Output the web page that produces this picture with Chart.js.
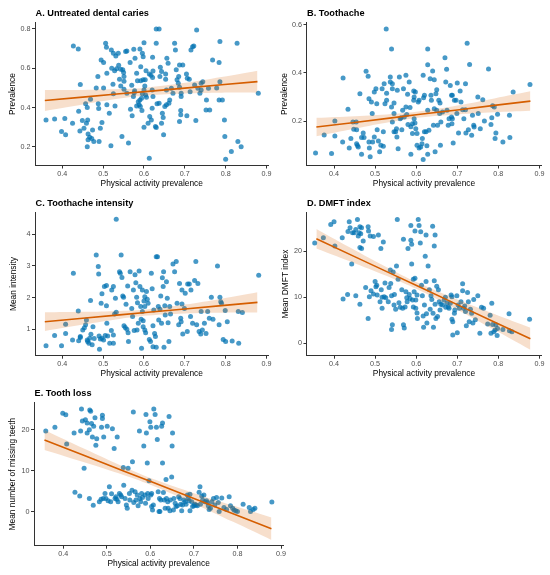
<!DOCTYPE html>
<html>
<head>
<meta charset="utf-8">
<script src="https://cdn.jsdelivr.net/npm/chart.js@4.4.1/dist/chart.umd.min.js"></script>
<style>
html,body{margin:0;padding:0;background:#fff;}
#wrap{position:relative;width:550px;height:575px;overflow:hidden;background:#fff;}
canvas{position:absolute;}
</style>
</head>
<body>
<div id="wrap"></div>
<script>
// ---------- DATA ----------
const xTicks = [0.4, 0.5, 0.6, 0.7, 0.8, 0.9];
const aTicks = [0.2, 0.4, 0.6, 0.8];
const bTicks = [0.2, 0.4, 0.6];
const cTicks = [1, 2, 3, 4];
const dTicks = [0, 10, 20];
const eTicks = [0, 10, 20];

// Fitted line and 95% band at these x positions
const fitX = [0.357, 0.45, 0.54, 0.61, 0.70, 0.79, 0.878];
const aFit = [0.436, 0.453, 0.470, 0.4825, 0.499, 0.516, 0.532];
const aLo  = [0.383, 0.416, 0.446, 0.4625, 0.472, 0.476, 0.476];
const aHi  = [0.489, 0.490, 0.494, 0.5025, 0.526, 0.556, 0.588];
const bFit = [0.175, 0.194, 0.213, 0.228, 0.246, 0.265, 0.283];
const bLo  = [0.1365, 0.1677, 0.1966, 0.215, 0.2277, 0.2361, 0.2425];
const bHi  = [0.2135, 0.2203, 0.2294, 0.241, 0.2643, 0.2939, 0.3235];
const cFit = [1.24, 1.349, 1.454, 1.536, 1.642, 1.747, 1.85];
const cLo  = [0.945, 1.147, 1.328, 1.436, 1.502, 1.526, 1.53];
const cHi  = [1.535, 1.551, 1.58, 1.636, 1.782, 1.968, 2.17];
const dFit = [22.7, 18.82, 15.07, 12.15, 8.39, 4.64, 0.97];
const dLo  = [20.57, 17.38, 14.17, 11.40, 7.28, 2.91, -1.43];
const dHi  = [24.83, 20.26, 15.97, 12.90, 9.50, 6.37, 3.37];
const eFit = [17.5, 13.65, 9.92, 7.02, 3.29, -0.43, -4.07];
const eLo  = [15.06, 12.0, 8.9, 6.17, 2.02, -2.41, -6.82];
const eHi  = [19.94, 15.3, 10.94, 7.87, 4.56, 1.55, -1.32];

// A. Untreated dental caries
const aX = [0.36,0.381,0.406,0.398,0.408,0.427,0.439,0.444,0.425,0.44,0.443,0.449,0.453,0.457,0.461,0.459,0.462,0.463,0.463,0.461,0.469,0.467,0.472,0.477,0.474,0.483,0.487,0.488,0.489,0.49,0.493,0.497,0.495,0.501,0.501,0.506,0.508,0.509,0.509,0.515,0.519,0.521,0.52,0.524,0.525,0.529,0.525,0.531,0.537,0.528,0.533,0.538,0.54,0.543,0.548,0.55,0.551,0.551,0.543,0.551,0.555,0.558,0.546,0.562,0.566,0.57,0.558,0.567,0.571,0.575,0.578,0.582,0.584,0.577,0.574,0.576,0.582,0.586,0.59,0.594,0.588,0.591,0.595,0.59,0.596,0.6,0.598,0.592,0.592,0.598,0.603,0.605,0.602,0.6,0.596,0.604,0.606,0.6,0.61,0.613,0.614,0.618,0.62,0.613,0.617,0.621,0.622,0.621,0.62,0.622,0.628,0.63,0.63,0.63,0.637,0.632,0.637,0.639,0.64,0.643,0.645,0.647,0.643,0.648,0.651,0.655,0.653,0.653,0.656,0.659,0.663,0.661,0.655,0.667,0.671,0.675,0.677,0.679,0.681,0.684,0.687,0.685,0.687,0.695,0.691,0.691,0.69,0.687,0.69,0.704,0.705,0.706,0.711,0.713,0.715,0.719,0.722,0.724,0.727,0.729,0.732,0.737,0.74,0.744,0.74,0.753,0.752,0.761,0.758,0.768,0.778,0.784,0.786,0.786,0.784,0.792,0.797,0.798,0.80,0.814,0.828,0.83,0.838,0.88];
const aY = [0.337,0.342,0.344,0.278,0.261,0.714,0.698,0.517,0.32,0.381,0.281,0.334,0.295,0.419,0.40,0.32,0.337,0.266,0.236,0.20,0.442,0.249,0.242,0.227,0.286,0.50,0.558,0.419,0.395,0.227,0.295,0.324,0.642,0.63,0.50,0.727,0.707,0.575,0.414,0.371,0.205,0.60,0.693,0.519,0.47,0.408,0.676,0.663,0.676,0.588,0.598,0.615,0.544,0.595,0.592,0.578,0.558,0.534,0.51,0.493,0.685,0.688,0.253,0.219,0.629,0.514,0.473,0.392,0.358,0.697,0.651,0.575,0.536,0.486,0.456,0.476,0.408,0.43,0.439,0.447,0.414,0.405,0.385,0.698,0.676,0.73,0.659,0.608,0.536,0.541,0.541,0.588,0.51,0.49,0.47,0.464,0.453,0.30,0.32,0.142,0.354,0.337,0.397,0.571,0.564,0.553,0.586,0.656,0.49,0.456,0.303,0.298,0.727,0.80,0.80,0.419,0.422,0.558,0.605,0.583,0.371,0.35,0.32,0.261,0.405,0.49,0.544,0.571,0.651,0.625,0.439,0.422,0.414,0.498,0.473,0.727,0.693,0.592,0.541,0.524,0.503,0.558,0.617,0.617,0.473,0.456,0.363,0.329,0.385,0.571,0.358,0.549,0.544,0.481,0.693,0.71,0.714,0.515,0.334,0.795,0.498,0.473,0.524,0.532,0.49,0.439,0.388,0.388,0.498,0.642,0.50,0.629,0.736,0.532,0.439,0.439,0.337,0.253,0.137,0.176,0.727,0.227,0.20,0.473];

// B. Toothache
const bX = [0.355,0.376,0.394,0.402,0.402,0.422,0.421,0.434,0.437,0.441,0.446,0.448,0.454,0.455,0.455,0.457,0.459,0.463,0.467,0.467,0.471,0.473,0.478,0.483,0.485,0.485,0.486,0.488,0.491,0.493,0.494,0.498,0.498,0.502,0.504,0.505,0.508,0.511,0.514,0.517,0.52,0.52,0.522,0.524,0.527,0.528,0.528,0.537,0.537,0.54,0.542,0.54,0.542,0.542,0.546,0.546,0.546,0.55,0.552,0.553,0.554,0.556,0.559,0.561,0.563,0.565,0.569,0.567,0.571,0.575,0.575,0.577,0.579,0.58,0.583,0.585,0.587,0.587,0.591,0.591,0.594,0.595,0.594,0.598,0.595,0.597,0.599,0.602,0.602,0.605,0.607,0.607,0.611,0.614,0.615,0.617,0.618,0.62,0.62,0.617,0.624,0.628,0.626,0.628,0.628,0.628,0.631,0.634,0.636,0.637,0.64,0.642,0.644,0.644,0.648,0.65,0.65,0.652,0.646,0.655,0.657,0.658,0.659,0.66,0.664,0.67,0.672,0.674,0.675,0.678,0.68,0.683,0.686,0.687,0.688,0.686,0.688,0.69,0.693,0.697,0.70,0.703,0.699,0.707,0.709,0.713,0.716,0.72,0.72,0.721,0.724,0.727,0.73,0.735,0.737,0.74,0.741,0.75,0.751,0.756,0.762,0.766,0.776,0.782,0.784,0.786,0.79,0.792,0.794,0.798,0.811,0.827,0.828,0.836,0.877];
const bY = [0.067,0.142,0.065,0.20,0.138,0.379,0.113,0.249,0.088,0.127,0.196,0.166,0.196,0.164,0.106,0.098,0.092,0.314,0.131,0.062,0.15,0.131,0.407,0.386,0.293,0.113,0.088,0.051,0.279,0.231,0.113,0.134,0.321,0.334,0.272,0.164,0.117,0.072,0.099,0.334,0.155,0.095,0.355,0.272,0.583,0.316,0.286,0.383,0.362,0.50,0.355,0.258,0.334,0.196,0.155,0.275,0.231,0.155,0.168,0.134,0.328,0.085,0.383,0.21,0.214,0.164,0.334,0.245,0.217,0.39,0.258,0.227,0.311,0.186,0.362,0.256,0.062,0.176,0.189,0.148,0.325,0.30,0.286,0.321,0.21,0.192,0.168,0.148,0.099,0.279,0.286,0.088,0.092,0.106,0.127,0.39,0.297,0.307,0.155,0.04,0.155,0.245,0.097,0.062,0.50,0.434,0.162,0.376,0.307,0.286,0.408,0.182,0.372,0.251,0.314,0.33,0.245,0.182,0.072,0.286,0.231,0.275,0.099,0.196,0.238,0.463,0.362,0.416,0.245,0.182,0.21,0.348,0.307,0.189,0.307,0.217,0.21,0.109,0.286,0.286,0.358,0.15,0.231,0.325,0.279,0.247,0.21,0.355,0.247,0.15,0.524,0.164,0.435,0.141,0.224,0.182,0.175,0.30,0.231,0.168,0.289,0.20,0.417,0.186,0.214,0.264,0.258,0.127,0.15,0.228,0.113,0.224,0.131,0.321,0.352];

// C. Toothache intensity
const cX = [0.36,0.381,0.398,0.408,0.408,0.427,0.425,0.439,0.44,0.444,0.444,0.45,0.454,0.457,0.459,0.461,0.462,0.465,0.467,0.469,0.47,0.473,0.475,0.478,0.483,0.488,0.489,0.49,0.491,0.493,0.495,0.497,0.497,0.501,0.503,0.505,0.508,0.508,0.509,0.511,0.516,0.52,0.521,0.525,0.525,0.525,0.528,0.53,0.532,0.532,0.54,0.542,0.544,0.546,0.548,0.55,0.551,0.554,0.556,0.558,0.56,0.561,0.562,0.566,0.57,0.572,0.574,0.576,0.578,0.58,0.582,0.583,0.584,0.586,0.588,0.59,0.592,0.593,0.594,0.596,0.596,0.598,0.598,0.60,0.602,0.602,0.602,0.604,0.606,0.608,0.61,0.613,0.616,0.618,0.62,0.622,0.622,0.624,0.626,0.628,0.63,0.63,0.633,0.635,0.636,0.639,0.641,0.643,0.645,0.647,0.648,0.649,0.651,0.652,0.655,0.657,0.659,0.661,0.663,0.665,0.671,0.675,0.679,0.681,0.685,0.687,0.69,0.691,0.693,0.693,0.695,0.699,0.701,0.706,0.707,0.711,0.714,0.715,0.719,0.724,0.727,0.729,0.732,0.735,0.739,0.74,0.743,0.748,0.752,0.756,0.76,0.765,0.769,0.78,0.784,0.786,0.788,0.79,0.794,0.799,0.80,0.804,0.816,0.831,0.832,0.841,0.881];
const cY = [0.48,0.80,0.48,1.16,0.87,2.77,0.66,1.58,0.64,0.74,0.77,0.98,1.05,1.14,1.29,0.66,0.61,0.56,0.72,1.91,0.84,0.51,1.08,0.71,3.35,2.98,2.75,0.79,0.37,0.69,1.82,2.12,0.72,0.66,2.35,0.80,2.38,1.74,1.19,0.79,0.56,0.96,2.24,2.35,0.82,0.56,1.48,1.98,1.54,4.48,2.82,2.77,3.35,2.64,2.05,2.01,1.11,1.06,1.79,1.0,2.37,0.89,0.61,2.82,1.66,1.40,2.24,0.96,2.72,2.47,2.01,0.98,1.84,1.19,2.84,2.35,1.72,1.32,0.40,2.24,1.56,1.27,1.08,1.89,2.03,1.72,0.98,0.89,2.19,1.95,1.82,0.68,0.61,2.77,2.28,0.45,1.11,1.61,0.87,0.77,0.43,3.29,3.29,1.72,1.29,1.63,2.05,1.19,2.63,2.35,2.82,0.43,1.74,1.45,2.5,1.98,1.21,0.61,1.72,1.48,3.06,2.82,3.14,1.82,1.14,2.45,1.35,1.24,2.24,1.80,0.85,1.66,2.14,0.93,2.43,2.43,1.4,2.24,1.19,2.54,3.14,1.14,2.45,0.93,0.85,1.56,0.98,1.19,0.87,1.56,1.35,2.01,1.32,3.0,1.14,2.01,1.87,1.82,0.68,1.59,0.61,1.24,0.63,1.56,0.56,1.53,2.71];

// D. DMFT index
const dX = [0.353,0.374,0.392,0.40,0.402,0.42,0.422,0.433,0.437,0.439,0.434,0.443,0.445,0.449,0.453,0.453,0.457,0.459,0.461,0.463,0.465,0.463,0.467,0.463,0.467,0.471,0.477,0.483,0.484,0.483,0.486,0.488,0.49,0.496,0.496,0.50,0.502,0.504,0.505,0.508,0.512,0.514,0.515,0.517,0.52,0.517,0.522,0.524,0.526,0.532,0.534,0.537,0.538,0.54,0.54,0.542,0.544,0.546,0.547,0.55,0.552,0.554,0.556,0.558,0.561,0.565,0.567,0.569,0.569,0.571,0.573,0.575,0.577,0.578,0.58,0.583,0.585,0.587,0.587,0.589,0.589,0.591,0.593,0.593,0.595,0.597,0.597,0.599,0.599,0.602,0.602,0.603,0.605,0.607,0.61,0.611,0.613,0.615,0.617,0.618,0.62,0.622,0.624,0.624,0.625,0.626,0.629,0.632,0.634,0.636,0.638,0.64,0.641,0.642,0.644,0.644,0.646,0.646,0.648,0.65,0.652,0.654,0.656,0.658,0.66,0.664,0.668,0.671,0.672,0.675,0.678,0.68,0.683,0.685,0.687,0.687,0.689,0.689,0.693,0.694,0.699,0.70,0.702,0.705,0.709,0.713,0.713,0.715,0.718,0.72,0.722,0.725,0.727,0.729,0.732,0.735,0.738,0.74,0.744,0.75,0.755,0.759,0.764,0.774,0.78,0.782,0.784,0.786,0.789,0.792,0.794,0.797,0.798,0.811,0.826,0.827,0.833,0.876];
const dY = [21.8,22.9,25.8,26.4,21.1,22.9,9.6,10.6,26.4,25.1,24.3,17.2,24.0,24.0,24.7,10.3,26.9,23.3,24.0,25.3,23.8,20.8,25.1,8.5,20.6,22.2,12.1,25.3,24.4,5.4,10.1,23.3,11.4,23.2,10.7,13.4,12.3,12.6,10.5,23.5,9.0,20.6,11.6,10.0,22.0,7.6,10.1,13.1,9.9,9.0,12.1,15.9,13.0,10.3,3.0,4.0,15.5,8.3,10.6,7.4,16.8,26.9,13.9,8.8,7.8,11.6,7.6,22.6,4.0,3.3,7.9,11.2,9.9,9.0,20.6,10.6,9.7,25.6,22.4,17.2,21.5,9.4,7.9,13.9,11.2,24.4,14.1,9.4,7.6,10.5,6.6,5.4,26.9,25.6,21.8,24.2,12.6,10.3,5.9,3.5,8.3,18.9,23.5,13.4,6.4,4.4,16.8,11.6,7.4,10.3,9.5,25.4,6.5,3.5,13.6,21.1,8.5,23.5,5.4,12.4,5.8,11.6,9.0,7.2,8.5,8.3,9.4,10.0,7.8,8.7,7.9,7.6,8.7,10.5,10.1,5.2,4.7,1.8,6.5,7.2,10.3,2.3,8.3,7.6,9.0,12.9,11.4,7.6,8.1,6.9,3.8,11.0,9.0,4.7,7.4,6.5,4.4,9.5,5.1,10.3,2.2,7.8,7.6,4.2,6.1,2.2,8.7,4.1,2.5,2.9,4.0,1.7,3.2,3.0,6.4,2.7,2.5,5.2];

// E. Tooth loss
const eX = [0.36,0.381,0.399,0.406,0.408,0.425,0.427,0.438,0.44,0.442,0.444,0.448,0.451,0.455,0.455,0.46,0.461,0.463,0.46,0.465,0.467,0.47,0.469,0.473,0.475,0.477,0.483,0.487,0.488,0.49,0.49,0.492,0.493,0.496,0.498,0.501,0.503,0.506,0.509,0.511,0.513,0.517,0.519,0.521,0.524,0.523,0.526,0.529,0.532,0.534,0.538,0.539,0.542,0.545,0.547,0.549,0.552,0.553,0.558,0.559,0.561,0.562,0.565,0.567,0.57,0.572,0.575,0.576,0.578,0.58,0.582,0.585,0.588,0.589,0.59,0.591,0.593,0.594,0.595,0.597,0.599,0.601,0.601,0.603,0.603,0.605,0.607,0.608,0.611,0.614,0.616,0.618,0.62,0.621,0.622,0.624,0.626,0.628,0.628,0.63,0.632,0.634,0.636,0.637,0.64,0.641,0.643,0.645,0.646,0.649,0.65,0.651,0.653,0.654,0.657,0.659,0.662,0.665,0.668,0.67,0.672,0.674,0.677,0.68,0.682,0.685,0.687,0.689,0.691,0.691,0.695,0.697,0.70,0.702,0.705,0.708,0.712,0.714,0.715,0.718,0.72,0.723,0.725,0.729,0.731,0.733,0.735,0.738,0.741,0.745,0.748,0.752,0.756,0.758,0.764,0.769,0.775,0.781,0.784,0.789,0.792,0.796,0.80,0.813,0.827,0.83,0.836,0.84,0.879];
const eY = [19.7,20.6,24.0,23.6,16.5,19.2,4.8,3.9,19.7,25.0,22.1,10.6,22.4,21.6,19.2,20.0,24.8,24.5,3.3,21.5,18.2,20.8,1.6,22.9,16.2,17.8,2.5,3.1,20.6,23.5,22.7,3.3,18.2,4.5,3.3,20.8,2.7,6.1,2.5,4.4,20.2,15.4,3.3,3.7,18.2,3.1,2.5,4.5,4.1,3.7,10.8,6.5,3.3,1.7,0.9,10.6,4.5,2.9,5.3,12.2,24.3,2.3,4.9,2.9,4.1,1.5,19.7,3.3,2.5,4.5,3.5,16.0,4.1,2.1,23.7,19.2,11.9,4.5,3.3,7.6,21.9,20.6,4.1,4.5,1.3,0.5,1.7,25.0,23.7,20.6,17.6,4.9,0.1,3.3,0.1,2.9,20.8,21.6,11.9,4.7,2.9,0.9,7.9,3.3,2.5,0.9,23.2,0.3,2.9,8.5,16.0,19.2,0.5,3.3,2.1,1.3,1.5,3.7,3.3,1.9,0.3,1.7,2.9,2.5,1.9,4.1,3.3,2.7,4.3,0.3,2.5,1.3,1.5,1.9,1.7,1.5,4.8,6.1,1.9,3.9,2.9,4.1,2.5,2.7,2.3,1.5,0.6,0.9,2.5,3.3,1.7,3.5,2.3,0.1,3.4,1.1,0.6,3.7,1.5,0.9,0.5,0.3,0.1,1.9,1.1,0.1,0.6,0.9,2.4];

// ---------- RENDER ----------
const FONT = '"Liberation Sans", Arial, Helvetica, sans-serif';
const AXIS = '#333333';

const titlePlugin = {
  id: 'ptitle',
  afterDraw(chart, args, opts) {
    const {ctx, chartArea} = chart;
    ctx.save();
    ctx.font = 'bold 9.2px ' + FONT;
    ctx.fillStyle = '#000';
    ctx.textBaseline = 'middle';
    ctx.textAlign = 'left';
    ctx.fillText(opts.text, chartArea.left + 0.5, opts.y);
    ctx.restore();
  }
};

function pairs(xs, ys) {
  const n = Math.min(xs.length, ys.length);
  const out = [];
  for (let i = 0; i < n; i++) out.push({x: xs[i], y: ys[i]});
  return out;
}

const panels = [
  {title:'A. Untreated dental caries', ylab:'Prevalence', left:0, top:0, w:275, h:190,
   area:{l:35, t:22.5, r:268.5, b:165.5}, ymin:0.105, ymax:0.833, yticks:aTicks, ytx:12.7, fmt:v=>v.toFixed(1),
   xs:aX, ys:aY, fit:aFit, lo:aLo, hi:aHi},
  {title:'B. Toothache', ylab:'Prevalence', left:275, top:0, w:275, h:190,
   area:{l:31.5, t:22.5, r:266.5, b:165.5}, ymin:0.015, ymax:0.61, yticks:bTicks, ytx:9.3, fmt:v=>v.toFixed(1),
   xs:bX, ys:bY, fit:bFit, lo:bLo, hi:bHi},
  {title:'C. Toothache intensity', ylab:'Mean intensity', left:0, top:190, w:275, h:190,
   area:{l:35, t:22.5, r:268.5, b:165.7}, ymin:0.165, ymax:4.69, yticks:cTicks, ytx:13.3, fmt:v=>String(v),
   xs:cX, ys:cY, fit:cFit, lo:cLo, hi:cHi},
  {title:'D. DMFT index', ylab:'Mean DMFT index', left:275, top:190, w:275, h:190,
   area:{l:31.5, t:22.5, r:266.5, b:165.7}, ymin:-2.7, ymax:28.4, yticks:dTicks, ytx:11, fmt:v=>String(v),
   xs:dX, ys:dY, fit:dFit, lo:dLo, hi:dHi},
  {title:'E. Tooth loss', ylab:'Mean number of missing teeth', left:0, top:380, w:300, h:195,
   area:{l:34, t:22.5, r:283.2, b:165.7}, ymin:-8.2, ymax:26.6, yticks:eTicks, ytx:12.7, fmt:v=>String(v),
   xs:eX, ys:eY, fit:eFit, lo:eLo, hi:eHi}
];

const wrap = document.getElementById('wrap');

panels.forEach(p => {
  const cv = document.createElement('canvas');
  cv.width = p.w; cv.height = p.h;
  cv.style.left = p.left + 'px'; cv.style.top = p.top + 'px';
  cv.style.width = p.w + 'px'; cv.style.height = p.h + 'px';
  wrap.appendChild(cv);

  const xAxisH = p.h - p.area.b;
  const xTitleOffset = p.h - 183.3;
  const axisTitleSize = 8.4;
  const lh = axisTitleSize * 1.2;

  new Chart(cv, {
    type: 'scatter',
    data: {
      datasets: [
        {type:'line', data: pairs(fitX, p.fit), borderColor:'#D55E00', borderWidth:1.6,
         pointRadius:0, fill:false, tension:0, order:0},
        {type:'line', data: pairs(fitX, p.hi), borderWidth:0, borderColor:'rgba(0,0,0,0)',
         pointRadius:0, fill:'+1', backgroundColor:'rgba(213,94,0,0.2)', tension:0.4, order:1},
        {type:'line', data: pairs(fitX, p.lo), borderWidth:0, borderColor:'rgba(0,0,0,0)',
         pointRadius:0, fill:false, tension:0.4, order:1},
        {type:'scatter', data: pairs(p.xs, p.ys), pointRadius:2.5, borderWidth:0,
         pointBackgroundColor:'rgba(0,114,178,0.72)', backgroundColor:'rgba(0,114,178,0.72)', order:2}
      ]
    },
    options: {
      responsive:false, animation:false, events:[],
      layout:{padding:{left:0, top:p.area.t, right:p.w - p.area.r, bottom:0}},
      plugins:{
        legend:{display:false}, tooltip:{enabled:false},
        ptitle:{text:p.title, y:13.8}
      },
      scales:{
        x:{
          type:'linear', min:0.333, max:0.905,
          afterBuildTicks: a => { a.ticks = xTicks.map(v => ({value:v})); },
          afterFit: s => { s.height = xAxisH; },
          ticks:{autoSkip:false, maxRotation:0, padding:0.8, color:'#4D4D4D',
                 font:{family:FONT, size:7.2}, callback: v => Number(v).toFixed(1)},
          grid:{display:true, drawOnChartArea:false, drawTicks:true, tickLength:3, color:AXIS, lineWidth:1},
          border:{display:true, color:AXIS, width:1},
          title:{display:true, text:'Physical activity prevalence', color:'#000',
                 font:{family:FONT, size:axisTitleSize}, padding:{top:0, bottom: xTitleOffset - lh/2}}
        },
        y:{
          type:'linear', min:p.ymin, max:p.ymax,
          afterBuildTicks: a => { a.ticks = p.yticks.map(v => ({value:v})); },
          afterFit: s => { s.width = p.area.l; },
          ticks:{autoSkip:false, padding:1.5, color:'#4D4D4D',
                 font:{family:FONT, size:7.2}, callback: v => p.fmt(Number(v))},
          grid:{display:true, drawOnChartArea:false, drawTicks:true, tickLength:3, color:AXIS, lineWidth:1},
          border:{display:true, color:AXIS, width:1},
          title:{display:true, text:p.ylab, color:'#000',
                 font:{family:FONT, size:axisTitleSize}, padding:{top: p.ytx - lh/2, bottom:0}}
        }
      }
    },
    plugins:[titlePlugin]
  });
});
</script>
</body>
</html>
